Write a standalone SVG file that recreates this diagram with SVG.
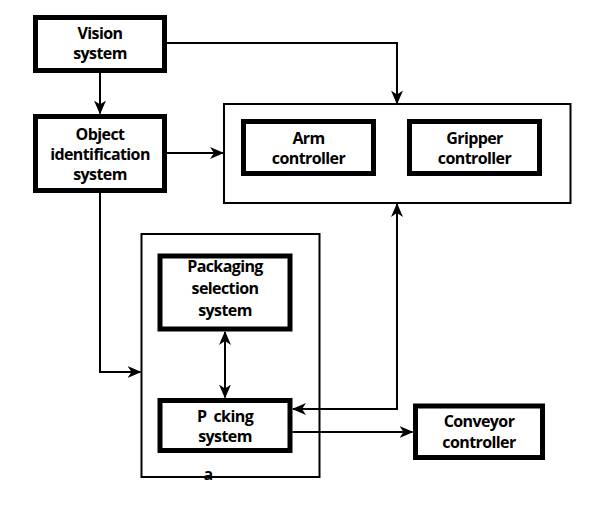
<svg xmlns="http://www.w3.org/2000/svg" width="596" height="512" viewBox="0 0 596 512">
<style>
.box{fill:#fff;stroke:#000;stroke-width:5}
.cont{fill:#fff;stroke:#000;stroke-width:2}
.ln{fill:none;stroke:#000;stroke-width:2}
text{font-family:"Open Sans","Noto Sans","DejaVu Sans",sans-serif;font-weight:700;font-size:16px;letter-spacing:-0.6px;text-anchor:middle;fill:#000;white-space:pre}
</style>
<defs>
<marker id="ah" viewBox="0 0 14 12" refX="13" refY="6" markerWidth="14" markerHeight="12" markerUnits="userSpaceOnUse" orient="auto-start-reverse">
<path d="M0,0 L14,6 L0,12 L4,6 Z" fill="#000"/>
</marker>
</defs>
<rect width="596" height="512" fill="#fff"/>
<g id="arm-gripper-group"><rect class="cont" x="224" y="104" width="346.5" height="99"/></g>
<g id="picking-group"><rect class="cont" x="141.5" y="234" width="178" height="243"/><text x="208" y="480">a</text></g>
<g id="vision"><rect class="box" x="35.5" y="17.5" width="129" height="53"/><text x="100" y="38.5">Vision</text><text x="100" y="59">system</text></g>
<g id="objectid"><rect class="box" x="35.5" y="116.5" width="129" height="74"/><text x="100" y="139.5">Object</text><text x="100" y="159.5">identification</text><text x="100" y="179.5">system</text></g>
<g id="arm"><rect class="box" x="243.5" y="121.5" width="130" height="52"/><text x="308.5" y="144">Arm</text><text x="308.5" y="164">controller</text></g>
<g id="gripper"><rect class="box" x="409.5" y="121.5" width="130" height="52"/><text x="474.5" y="144">Gripper</text><text x="474.5" y="164">controller</text></g>
<g id="packaging"><rect class="box" x="160" y="256" width="130" height="73"/><text x="225" y="272">Packaging</text><text x="225" y="294">selection</text><text x="225" y="316">system</text></g>
<g id="picking"><rect class="box" x="160" y="400.5" width="130" height="50"/><text x="225" y="422">P  cking</text><text x="225" y="442">system</text></g>
<g id="conveyor"><rect class="box" x="415.5" y="406" width="127" height="51.5"/><text x="479" y="427">Conveyor</text><text x="479" y="447.5">controller</text></g>
<g id="connectors">
<path class="ln" d="M100,73 V113.5" marker-end="url(#ah)"/>
<path class="ln" d="M167,43 H397 V103.5" marker-end="url(#ah)"/>
<path class="ln" d="M167,153 H223" marker-end="url(#ah)"/>
<path class="ln" d="M100,193 V372 H140.5" marker-end="url(#ah)"/>
<path class="ln" d="M225,332 V397.5" marker-start="url(#ah)" marker-end="url(#ah)"/>
<path class="ln" d="M293,409 H397 V204" marker-start="url(#ah)" marker-end="url(#ah)"/>
<path class="ln" d="M292.5,432 H412.5" marker-end="url(#ah)"/>
</g>
</svg>
